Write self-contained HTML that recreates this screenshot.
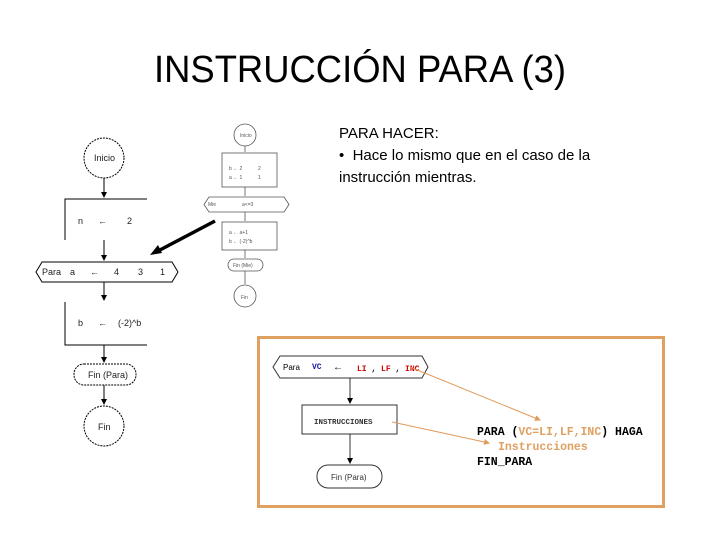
<!DOCTYPE html>
<html><head><meta charset="utf-8"><style>body{margin:0;background:#fff}svg{display:block}</style></head><body>
<svg width="720" height="540" xmlns="http://www.w3.org/2000/svg" font-family="Liberation Sans, sans-serif">
<defs>
<marker id="a" markerWidth="6" markerHeight="6" refX="5" refY="3" orient="auto"><path d="M0,0L6,3L0,6z" fill="#000"/></marker>
<marker id="o" markerWidth="6" markerHeight="6" refX="5" refY="3" orient="auto"><path d="M0,0L6,3L0,6z" fill="#e09a5a"/></marker>
</defs>
<text x="360" y="82" font-size="38" text-anchor="middle" textLength="412" lengthAdjust="spacingAndGlyphs">INSTRUCCIÓN PARA (3)</text>
<g font-size="15">
<text x="339" y="138">PARA HACER:</text>
<text x="339" y="160">•&#160;&#160;Hace lo mismo que en el caso de la</text>
<text x="339" y="182">instrucción mientras.</text>
</g>
<!-- left flowchart -->
<g stroke="#000" fill="none" stroke-width="1">
<circle cx="104" cy="158" r="20" stroke-dasharray="2,1"/>
<line x1="104" y1="178" x2="104" y2="197" marker-end="url(#a)"/>
<polyline points="65,240 65,199 147,199"/>
<line x1="104" y1="240" x2="104" y2="260" marker-end="url(#a)"/>
<polygon points="42,262 172,262 178,272 172,282 42,282 36,272"/>
<line x1="104" y1="282" x2="104" y2="300" marker-end="url(#a)"/>
<polyline points="65,302 65,345 147,345"/>
<line x1="104" y1="345" x2="104" y2="362" marker-end="url(#a)"/>
<rect x="74" y="364" width="62" height="21" rx="10" stroke-dasharray="2,1"/>
<line x1="104" y1="385" x2="104" y2="404" marker-end="url(#a)"/>
<circle cx="104" cy="426" r="20" stroke-dasharray="2,1"/>
</g>
<g font-size="9" fill="#222">
<text x="94" y="161">Inicio</text>
<text x="78" y="224">n</text><text x="98" y="224">←</text><text x="127" y="224">2</text>
<text x="42" y="275">Para</text><text x="70" y="275">a</text><text x="90" y="275">←</text><text x="114" y="275">4</text><text x="138" y="275">3</text><text x="160" y="275">1</text>
<text x="78" y="326">b</text><text x="98" y="326">←</text><text x="118" y="326">(-2)^b</text>
<text x="88" y="378">Fin (Para)</text>
<text x="98" y="430">Fin</text>
</g>
<!-- small right flowchart -->
<g stroke="#555" fill="none" stroke-width="0.8">
<circle cx="245" cy="135" r="11"/>
<line x1="245" y1="146" x2="245" y2="152"/>
<rect x="222" y="153" width="55" height="34"/>
<line x1="245" y1="187" x2="245" y2="196"/>
<polygon points="209,197 284,197 289,204.5 284,212 209,212 204,204.5"/>
<line x1="245" y1="212" x2="245" y2="221"/>
<rect x="222" y="222" width="55" height="28"/>
<line x1="245" y1="250" x2="245" y2="258"/>
<rect x="228" y="259" width="35" height="12" rx="6"/>
<line x1="245" y1="271" x2="245" y2="284"/>
<circle cx="245" cy="296" r="11"/>
</g>
<g font-size="5" fill="#555">
<text x="240" y="137">Inicio</text>
<text x="229" y="170">b ← 2</text><text x="258" y="170">2</text>
<text x="229" y="179">a ← 1</text><text x="258" y="179">1</text>
<text x="208" y="206">Mie</text><text x="242" y="206">a&lt;=3</text>
<text x="229" y="234">a ← a+1</text>
<text x="229" y="243">b ← (-2)^b</text>
<text x="233" y="267">Fin (Mie)</text>
<text x="241" y="299">Fin</text>
</g>
<line x1="215" y1="221" x2="158" y2="251" stroke="#000" stroke-width="3.5"/>
<polygon points="150,255 158,245 162,253" fill="#000"/>
<!-- orange box -->
<rect x="258.5" y="337.5" width="405" height="169" fill="none" stroke="#e0a060" stroke-width="3"/>
<g stroke="#333" fill="#fff" stroke-width="1">
<polygon points="280,356 422,356 428,367 422,378 280,378 273,367"/>
<line x1="350" y1="378" x2="350" y2="403" marker-end="url(#a)"/>
<rect x="302" y="405" width="95" height="29"/>
<line x1="350" y1="434" x2="350" y2="463" marker-end="url(#a)"/>
<rect x="317" y="465" width="65" height="23" rx="11"/>
</g>
<text x="283" y="370" font-size="8">Para</text>
<text x="312" y="369" font-size="8" font-family="Liberation Mono, monospace" font-weight="bold" fill="#1a1aa0">VC</text>
<text x="333" y="370" font-size="10">←</text>
<text x="357" y="371" font-size="8" font-family="Liberation Mono, monospace" font-weight="bold" fill="#c00">LI <tspan fill="#000">,</tspan> LF <tspan fill="#000">,</tspan> INC</text>
<text x="314" y="424" font-size="7.5" font-family="Liberation Mono, monospace" font-weight="bold" fill="#333">INSTRUCCIONES</text>
<text x="331" y="480" font-size="8" fill="#333">Fin (Para)</text>
<line x1="410" y1="367" x2="540" y2="420" stroke="#e09a5a" stroke-width="1" marker-end="url(#o)"/>
<line x1="392" y1="422" x2="489" y2="443" stroke="#e09a5a" stroke-width="1" marker-end="url(#o)"/>
<g font-family="Liberation Mono, monospace" font-weight="bold" font-size="11.5">
<text x="477" y="435">PARA (<tspan fill="#e0a060">VC=LI,LF,INC</tspan>) HAGA</text>
<text x="498" y="450" fill="#e0a060">Instrucciones</text>
<text x="477" y="465">FIN_PARA</text>
</g>
</svg>
</body></html>
